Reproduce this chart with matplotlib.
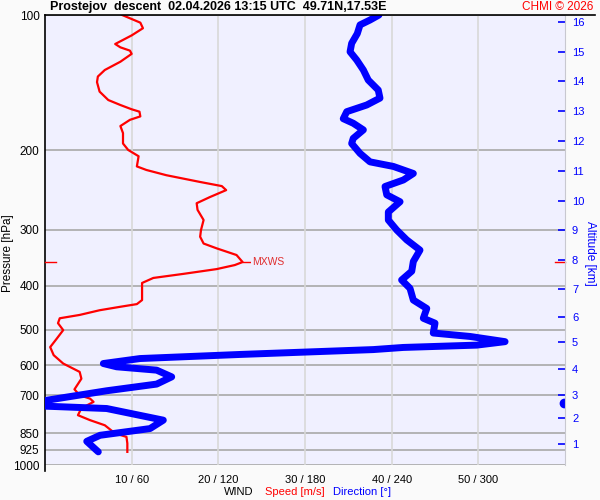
import numpy as np
import matplotlib
matplotlib.use("Agg")
import matplotlib.pyplot as plt
from matplotlib.lines import Line2D
from matplotlib.ticker import FixedLocator, FixedFormatter, NullLocator

plt.rcParams['font.family'] = ['Liberation Sans', 'DejaVu Sans']

# ---- data ----
speed_p = [100, 104, 107, 111, 116, 118, 120, 122, 127, 132.5, 137, 141, 148, 154.5, 158.5,
           162, 164, 168, 171, 176.5, 183, 193, 199.5, 206, 217, 221, 227, 235, 240, 245,
           254, 262, 271, 285.5, 300.5, 311, 322, 330, 341.5, 354, 359.5, 367, 376, 384,
           394, 430, 439, 445, 453, 464, 472, 484, 501.5, 524, 547, 570, 595, 621, 643,
           679, 700, 712, 724, 748, 775, 795, 816, 851, 866, 895, 935]
speed_ms = [8.9, 11.0, 11.3, 10.0, 8.1, 8.7, 9.8, 10.0, 8.7, 6.9, 6.1, 6.0, 6.3, 7.3, 8.7,
            10.0, 10.9, 11.0, 9.8, 8.7, 9.0, 9.0, 9.6, 10.8, 10.6, 11.7, 14.0, 17.9, 20.4, 20.9,
            19.0, 17.5, 17.6, 18.3, 18.0, 17.9, 18.3, 19.8, 22.1, 22.8, 21.9, 19.8, 16.0, 12.5,
            11.2, 11.2, 10.6, 8.7, 6.3, 4.0, 1.7, 1.5, 2.1, 1.35, 0.6, 1.0, 2.1, 4.0, 4.2,
            3.4, 4.0, 5.2, 5.6, 4.2, 3.8, 5.2, 6.9, 8.1, 9.4, 9.5, 9.5]

dir_p = [100, 102.6, 105.2, 110, 115.6, 120.7, 125.9, 132.5, 139.5, 146.8, 153, 158.5, 164,
         170, 174, 180, 188, 193, 203, 212, 217, 225, 232.6, 240.5, 251, 260, 274, 285.5,
         300.5, 316, 333, 353, 371, 388, 405, 430, 449, 472, 484, 509, 518, 532, 541.5, 548,
         554, 568, 580, 595, 605, 615.5, 637, 661, 684, 718, 729, 740, 749, 795, 830, 859,
         886, 935]
dir_deg = [231.2, 225.0, 218.1, 216.2, 212.3, 211.2, 215.8, 220.4, 223.8, 230.7, 231.9, 222.7,
           208.9, 206.5, 213.4, 220.4, 213.4, 212.3, 218.1, 225.0, 241.1, 255.0, 248.1, 235.4,
           236.6, 245.8, 237.7, 237.7, 243.5, 250.4, 259.6, 255.0, 253.9, 246.9, 252.7, 255.0,
           264.3, 261.9, 270.0, 268.8, 294.2, 318.5, 298.9, 248.0, 227.3, 135.0, 65.8, 40.4,
           49.6, 77.3, 87.7, 77.3, 42.7, 1.2, -1.0, 0.0, 42.7, 81.9, 72.7, 38.1, 28.9, 36.9]

mxws_p = 354
mxws_speed = 22.8

p_ticks = [100, 200, 300, 400, 500, 600, 700, 850, 925, 1000]
speed_ticks = [10, 20, 30, 40, 50]
dir_ticks = [60, 120, 180, 240, 300]
alt_km = [1, 2, 3, 4, 5, 6, 7, 8, 9, 10, 11, 12, 13, 14, 15, 16]
alt_p = [898, 786, 699, 612, 533, 469, 406, 350, 300, 259, 222, 190.5, 163.4, 140.2, 120.8, 103.6]

title = "Prostejov  descent  02.04.2026 13:15 UTC  49.71N,17.53E"

# ---- figure ----
fig = plt.figure(figsize=(6, 5), dpi=100, facecolor='#fafafa')
L, R, B, T = 45/600, 565/600, 1 - 465/500, 1 - 15/500
ax = fig.add_axes([L, B, R - L, T - B])
ax.set_facecolor('#f0f0ff')
ax.set_yscale('log')
ax.set_ylim(1000, 100)
ax.set_xlim(0, 60)

# direction on twin x axis (shares pressure axis)
axd = ax.twiny()
axd.set_xlim(0, 360)
axd.axis('off')

# altitude axis
axa = ax.twinx()
axa.set_yscale('log')
axa.set_ylim(1000, 100)

for p in p_ticks:
    ax.axhline(p, color='#a8a8a8', lw=1.2, zorder=1)
for s in speed_ticks:
    ax.axvline(s, color='#d8d8d8', lw=1.2, zorder=1)

ax.yaxis.set_major_locator(FixedLocator(p_ticks))
ax.yaxis.set_major_formatter(FixedFormatter([str(p) for p in p_ticks]))
ax.yaxis.set_minor_locator(NullLocator())
ax.tick_params(axis='y', length=0, pad=4, labelsize=8.5)
ax.set_xticks(speed_ticks)
ax.set_xticklabels([f"{s} / {d}" for s, d in zip(speed_ticks, dir_ticks)])
ax.tick_params(axis='x', length=0, pad=7, labelsize=8)
ax.set_ylabel("Pressure [hPa]", fontsize=8.5, va='center')
ax.yaxis.set_label_coords(-0.071, 0.471)

for side in ['top', 'bottom', 'right']:
    ax.spines[side].set_visible(False)
ax.spines['left'].set_color('black')
ax.spines['left'].set_linewidth(1.2)
ax.spines['left'].set_bounds(1030, 100)

d = np.array(dir_deg)
axd.plot(d, dir_p, color='#0000ff', lw=5, solid_capstyle='round', solid_joinstyle='round', zorder=3)
wrap = np.where(d < 0, d + 360, np.nan)
axd.plot(wrap, dir_p, 'o', color='#0000ff', ms=6, zorder=3)

ax.plot(speed_ms, speed_p, color='#ff0000', lw=1.6, zorder=4)
ax.plot([mxws_speed, mxws_speed + 0.8], [mxws_p, mxws_p], color='#ff0000', lw=1, zorder=4)
ax.text(mxws_speed + 1.1, mxws_p, "MXWS", color='#e03030', fontsize=7.5, va='center', ha='left',
        bbox=dict(facecolor='#f0f0ff', edgecolor='none', pad=0.5), zorder=5)
ax.plot([0, 1.3], [mxws_p, mxws_p], color='#ff0000', lw=1, zorder=4, clip_on=False)
ax.plot([58.8, 60], [mxws_p, mxws_p], color='#ff0000', lw=1, zorder=4, clip_on=False)

axa.yaxis.set_major_locator(FixedLocator(alt_p))
axa.yaxis.set_major_formatter(FixedFormatter([str(k) for k in alt_km]))
axa.yaxis.set_minor_locator(NullLocator())
axa.tick_params(axis='y', direction='in', length=5, width=1.2, color='#0000ff',
                labelcolor='#0000ff', labelsize=8, pad=5)
for side in ['top', 'bottom', 'left']:
    axa.spines[side].set_visible(False)
axa.spines['right'].set_color('#c8c8d0')
axa.set_ylabel("Altitude [km]", color='#0000ff', fontsize=8.5, rotation=-90, va='center')
axa.yaxis.set_label_coords(1.048, 0.471)

# top line and title
fig.add_artist(Line2D([45/600, 595/600], [T, T], color='black', lw=1.2))
fig.text(50/600, 1 - 7/500, title, fontsize=9, fontweight='bold', va='center', ha='left')
fig.text(593/600, 1 - 7/500, "CHMI © 2026", fontsize=8.5, color='#ff0000', va='center', ha='right')

# bottom legend
fig.text(253/600, 1 - 492/500, "WIND", fontsize=8, color='black', va='center', ha='right')
fig.text(265/600, 1 - 492/500, "Speed [m/s]", fontsize=8, color='#ff0000', va='center', ha='left')
fig.text(333/600, 1 - 492/500, "Direction [°]", fontsize=8, color='#0000ff', va='center', ha='left')

fig.savefig("out.png", dpi=100, facecolor=fig.get_facecolor())
